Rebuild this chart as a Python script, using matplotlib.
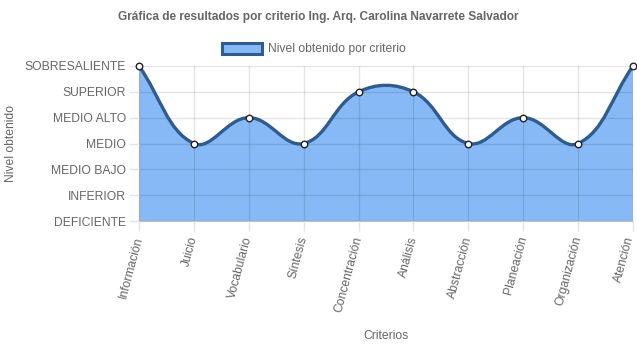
import matplotlib
matplotlib.use('Agg')
import matplotlib.pyplot as plt
import matplotlib.transforms as mtransforms
import numpy as np
from matplotlib.path import Path
from matplotlib.patches import PathPatch, Patch

# data
criterios = ['Información', 'Juicio', 'Vocabulario', 'Síntesis', 'Concentración',
             'Análisis', 'Abstracción', 'Planeación', 'Organización', 'Atención']
niveles = ['DEFICIENTE', 'INFERIOR', 'MEDIO BAJO', 'MEDIO', 'MEDIO ALTO',
           'SUPERIOR', 'SOBRESALIENTE']
resultado = ['SOBRESALIENTE', 'MEDIO', 'MEDIO ALTO', 'MEDIO', 'SUPERIOR',
             'SUPERIOR', 'MEDIO', 'MEDIO ALTO', 'MEDIO', 'SOBRESALIENTE']

fill_color = '#86b9f6'
line_color = '#2f5b8f'
grey = '#666666'

plt.rcParams['font.family'] = ['Liberation Sans', 'DejaVu Sans']

fig = plt.figure(figsize=(6.37, 3.48), dpi=100)
W, H = 637, 348
ax = fig.add_axes([139 / W, 1 - 221 / H, (633 - 139) / W, (221 - 66) / H])

x = np.arange(len(criterios))
y = np.array([niveles.index(r) for r in resultado], dtype=float)
ax.set_xlim(0, len(criterios) - 1)
ax.set_ylim(0, len(niveles) - 1)

# bezier control points like chart.js (tension 0.4), in pixel space
pts = ax.transData.transform(np.column_stack([x, y]))
tension = 0.4
ctrl_prev = []
ctrl_next = []
n = len(pts)
for i in range(n):
    prev = pts[max(i - 1, 0)]
    cur = pts[i]
    nxt = pts[min(i + 1, n - 1)]
    d01 = np.hypot(*(cur - prev))
    d12 = np.hypot(*(nxt - cur))
    tot = d01 + d12
    s01 = d01 / tot if tot else 0
    s12 = d12 / tot if tot else 0
    ctrl_prev.append(cur - tension * s01 * (nxt - prev))
    ctrl_next.append(cur + tension * s12 * (nxt - prev))

verts = [pts[0]]
codes = [Path.MOVETO]
for i in range(n - 1):
    verts += [ctrl_next[i], ctrl_prev[i + 1], pts[i + 1]]
    codes += [Path.CURVE4] * 3
inv = ax.transData.inverted()
verts = inv.transform(np.array(verts))

line_path = Path(verts, codes)
fill_verts = np.vstack([verts, [[x[-1], 0], [x[0], 0], verts[0]]])
fill_codes = codes + [Path.LINETO, Path.LINETO, Path.CLOSEPOLY]
fill_path = Path(fill_verts, fill_codes)

ax.add_patch(PathPatch(fill_path, facecolor=fill_color, edgecolor='none', zorder=1))
ax.add_patch(PathPatch(line_path, facecolor='none', edgecolor=line_color, lw=2.4,
                       zorder=3, capstyle='round', joinstyle='round'))
ax.scatter(x, y, s=22, facecolor='white', edgecolor='#222222', linewidth=1,
           zorder=4, clip_on=False)

# grid
ax.set_xticks(x)
ax.set_xticklabels(criterios, rotation=75, ha='right', va='center',
                   rotation_mode='anchor', color=grey, fontsize=8.7)
ax.set_yticks(np.arange(len(niveles)))
ax.set_yticklabels(niveles, color=grey, fontsize=8.7)
ax.grid(True, color='black', alpha=0.1, lw=1, zorder=2)
ax.set_axisbelow(False)
ax.tick_params(axis='both', length=7.2, width=1, color='#e5e5e5', pad=2)
ax.tick_params(axis='x', pad=4)
for s in ['top', 'right']:
    ax.spines[s].set_visible(False)
for s in ['left', 'bottom']:
    ax.spines[s].set_color('#bfbfbf')
    ax.spines[s].set_zorder(2)

# keep the last label inside the canvas
last = ax.get_xticklabels()[-1]
last.set_transform(last.get_transform() +
                   mtransforms.ScaledTranslation(-3 / 100, 0, fig.dpi_scale_trans))

fig.text(386 / W, 1 - 336 / H, 'Criterios', ha='center', va='center',
         color=grey, fontsize=8.7)
fig.text(11 / W, 1 - 143 / H, 'Nivel obtenido', ha='center', va='center',
         rotation=90, color=grey, fontsize=8.7)

fig.text(318 / W, 1 - 17 / H, 'Gráfica de resultados por criterio Ing. Arq. Carolina Navarrete Salvador',
         ha='center', va='center', fontsize=8.6, fontweight='bold', color=grey)

handle = Patch(facecolor=fill_color, edgecolor=line_color, linewidth=2.2)
fig.legend([handle], ['Nivel obtenido por criterio'], loc='center',
           bbox_to_anchor=(314 / W, 1 - 49 / H), frameon=False, fontsize=8.7,
           labelcolor=grey, handlelength=3.3, handleheight=1.0, handletextpad=0.5,
           borderpad=0)

fig.savefig('out.png', dpi=100)
